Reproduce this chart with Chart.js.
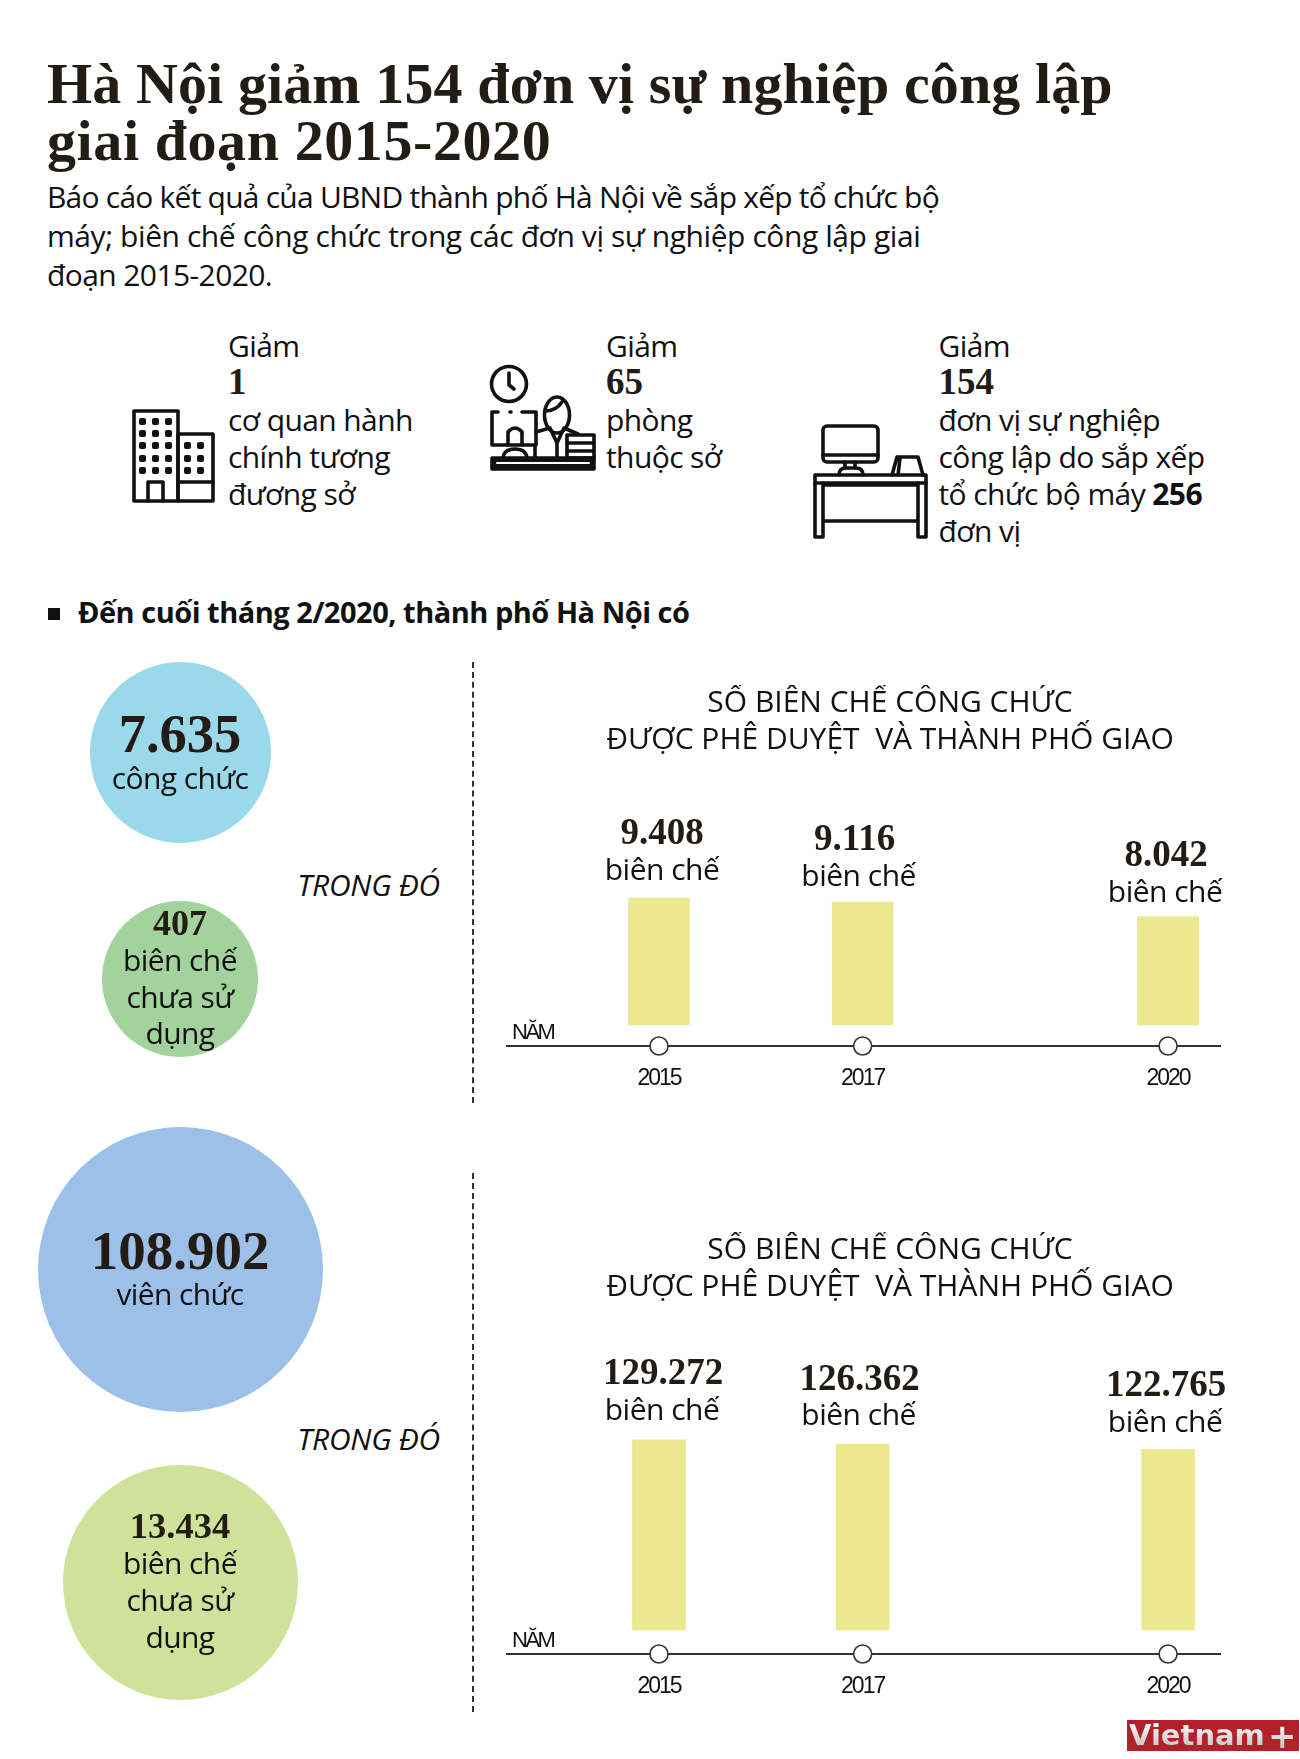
<!DOCTYPE html>
<html lang="vi">
<head>
<meta charset="utf-8">
<script src="https://cdn.jsdelivr.net/npm/chart.js@4"></script>
<style>
html, body { margin: 0; padding: 0; background: #fff; }
#page { position: relative; width: 1300px; height: 1759px; overflow: hidden; color: #111; }
#page canvas { position: absolute; }
.t { position: absolute; white-space: nowrap; line-height: 1; font-family: "Open Sans", sans-serif; }
.head { font: bold 58px/1 "Liberation Serif", serif; color: #231c14; }
.body { font-size: 30px; letter-spacing: -0.6px; }
.num { font: bold 37px/1 "Liberation Serif", serif; color: #231c14; }
.strong { font-size: 29px; font-weight: 700; letter-spacing: -0.49px; }
.it { font-size: 30px; font-style: italic; letter-spacing: -0.25px; }
.dash { position: absolute; left: 472px; width: 0; border-left: 2px dashed #333; }
#logo { position: absolute; left: 1127px; top: 1720px; width: 172px; height: 31px; background: #b3202a; overflow: hidden; }
#logo span { position: absolute; top: 0; font: bold 29px/31px "DejaVu Sans", sans-serif;
  background: linear-gradient(#fff, #bdbdbd); -webkit-background-clip: text; background-clip: text; color: transparent; }
#icons { position: absolute; left: 0; top: 0; }
</style>
</head>
<body>
<div id="page">
  <svg id="icons" width="1300" height="600" fill="none" stroke="#111" stroke-width="3.6" stroke-linejoin="round" stroke-linecap="round">
    <!-- building -->
    <rect x="134" y="411" width="44" height="90"/><rect x="178" y="434" width="35" height="67"/>
    <path d="M148 501V482H163V501M178 482H213"/>
    <g fill="#111" stroke="none">
      <rect x="139" y="418" width="7" height="7" rx="2"/><rect x="152" y="418" width="7" height="7" rx="2"/><rect x="165" y="418" width="7" height="7" rx="2"/>
      <rect x="139" y="430" width="7" height="7" rx="2"/><rect x="152" y="430" width="7" height="7" rx="2"/><rect x="165" y="430" width="7" height="7" rx="2"/>
      <rect x="139" y="442" width="7" height="7" rx="2"/><rect x="152" y="442" width="7" height="7" rx="2"/><rect x="165" y="442" width="7" height="7" rx="2"/>
      <rect x="139" y="455" width="7" height="7" rx="2"/><rect x="152" y="455" width="7" height="7" rx="2"/><rect x="165" y="455" width="7" height="7" rx="2"/>
      <rect x="139" y="467" width="7" height="7" rx="2"/><rect x="152" y="467" width="7" height="7" rx="2"/><rect x="165" y="467" width="7" height="7" rx="2"/>
      <rect x="184" y="442" width="7" height="7" rx="2"/><rect x="197" y="442" width="7" height="7" rx="2"/>
      <rect x="184" y="455" width="7" height="7" rx="2"/><rect x="197" y="455" width="7" height="7" rx="2"/>
      <rect x="184" y="467" width="7" height="7" rx="2"/><rect x="197" y="467" width="7" height="7" rx="2"/>
    </g>
    <!-- clerk at desk -->
    <circle cx="509" cy="384" r="17.5"/><path d="M509 373V385L514 389"/>
    <path d="M498 412H492V445H536V412H522M510 412H511"/>
    <path d="M508 445V432Q515 424 522 432V445M503 458Q504 449 515 449Q526 449 527 458M535 445V458"/>
    <ellipse cx="557" cy="415" rx="12.5" ry="18"/><path d="M545 411Q556 411 562 402"/>
    <path d="M536 432L550 428L557 443L564 428L578 434M557 443V458"/>
    <rect x="567" y="435" width="27" height="23"/><path d="M567 443H594M567 451H594"/>
    <rect x="492" y="458" width="102" height="11" fill="#111"/><path d="M497 463H589" stroke="#fff" stroke-width="2"/>
    <!-- work desk -->
    <rect x="823" y="426" width="55" height="36" rx="4"/><path d="M823 455H878M845 462V468M855 462V468"/>
    <path d="M839 475Q839 468 846 468H856Q863 468 863 475"/>
    <path d="M892 475L897 457H918L923 475M898 475L900 458"/>
    <rect x="815" y="475" width="111" height="8"/><path d="M815 483V537H823V483M918 483V537H926V483M823 485H918M823 521H918"/>
  </svg>
  <div class="dash" style="top:662px;height:441px"></div>
  <div class="dash" style="top:1173px;height:539px"></div>
  <canvas id="circleCongChuc" style="left:90px;top:662px"></canvas>
  <canvas id="circleChuaCongChuc" style="left:102px;top:901px"></canvas>
  <canvas id="circleVienChuc" style="left:38px;top:1127px"></canvas>
  <canvas id="circleChuaVienChuc" style="left:63px;top:1465px"></canvas>
  <canvas id="chartCongChuc" style="left:480px;top:685px"></canvas>
  <canvas id="chartVienChuc" style="left:480px;top:1232px"></canvas>
  <div id="logo"><span style="left:2px">Vietnam</span><span style="left:141px;top:1px;font-size:34px">+</span></div>
</div>
<script>
const years = [2015, 2017, 2020];
const congChucBienChe = [9408, 9116, 8042];
const vienChucBienChe = [129272, 126362, 122765];
const tongCongChuc = [7635];
const chuaSuDungCongChuc = [407];
const tongVienChuc = [108902];
const chuaSuDungVienChuc = [13434];
const giam = [1, 65, 154, 256];
const chartTitle = ['SỐ BIÊN CHẾ CÔNG CHỨC', 'ĐƯỢC PHÊ DUYỆT  VÀ THÀNH PHỐ GIAO'];

const SANS = '"Open Sans", sans-serif';
const SERIF = '"Liberation Serif", serif';
const TICK_FONT = '"Liberation Sans", sans-serif';
const INK = '#231c14';
const fmt = v => v.toLocaleString('de-DE');

// text placed by its baseline; 0.888 / 0.8375 = ascent offset with line-height 1
function put(text, x, base, cls, anchor, size, spacing) {
    const el = document.createElement('div');
    el.className = 't ' + cls;
    el.innerHTML = text;
    document.getElementById('page').appendChild(el);
    const serif = cls === 'head' || cls === 'num';
    const fs = size || parseFloat(getComputedStyle(el).fontSize);
    if (size) el.style.fontSize = size + 'px';
    if (spacing !== undefined) el.style.letterSpacing = spacing + 'px';
    el.style.left = x + 'px';
    el.style.top = (base - fs * (serif ? 0.8375 : 0.888)) + 'px';
    if (anchor === 'c') el.style.transform = 'translateX(-50%)';
    if (anchor === 'r') el.style.transform = 'translateX(-100%)';
    return el;
}

// heading block
put('Hà Nội giảm ' + giam[2] + ' đơn vị sự nghiệp công lập', 47, 104, 'head', 'l', 0, 0.11);
put('giai đoạn 2015-2020', 47, 161, 'head', 'l', 0, 0.59);
put('Báo cáo kết quả của UBND thành phố Hà Nội về sắp xếp tổ chức bộ', 47, 209, 'body', 'l', 0, -0.77);
put('máy; biên chế công chức trong các đơn vị sự nghiệp công lập giai', 47, 248, 'body', 'l', 0, -0.42);
put('đoạn 2015-2020.', 47, 287, 'body');

put('Giảm', 228, 358, 'body');
put(giam[0], 228, 394, 'num');
put('cơ quan hành', 228, 432, 'body');
put('chính tương', 228, 469, 'body');
put('đương sở', 228, 506, 'body');

put('Giảm', 606, 358, 'body');
put(giam[1], 606, 394, 'num');
put('phòng', 606, 432, 'body');
put('thuộc sở', 606, 469, 'body');

put('Giảm', 938.5, 358, 'body');
put(giam[2], 938.5, 394, 'num');
put('đơn vị sự nghiệp', 938.5, 432, 'body');
put('công lập do sắp xếp', 938.5, 469, 'body');
put('tổ chức bộ máy <b>' + giam[3] + '</b>', 938.5, 506, 'body');
put('đơn vị', 938.5, 543, 'body');

const bullet = document.createElement('div');
bullet.style.cssText = 'position:absolute;left:48px;top:608px;width:12px;height:12px;background:#111';
document.getElementById('page').appendChild(bullet);
put('Đến cuối tháng 2/2020, thành phố Hà Nội có', 78, 623, 'strong');

// one-slice pies for the circles on the left
function drawCircle(id, values, size, color) {
    const canvas = document.getElementById(id);
    canvas.width = size;
    canvas.height = size;
    new Chart(canvas, {
        type: 'pie',
        data: { datasets: [{ data: values, backgroundColor: color, borderWidth: 0 }] },
        options: {
            responsive: false,
            animation: false,
            plugins: { legend: { display: false }, tooltip: { enabled: false } }
        }
    });
}
drawCircle('circleCongChuc', tongCongChuc, 181, '#99d9ea');
drawCircle('circleChuaCongChuc', chuaSuDungCongChuc, 156, '#a3d39c');
drawCircle('circleVienChuc', tongVienChuc, 285, '#9cc0e7');
drawCircle('circleChuaVienChuc', chuaSuDungVienChuc, 235, '#cfe29a');

put(fmt(tongCongChuc[0]), 180, 753, 'num', 'c', 54.5);
put('công chức', 180, 790, 'body', 'c');
put(fmt(chuaSuDungCongChuc[0]), 180, 935, 'num', 'c', 36);
put('biên chế', 180, 972, 'body', 'c');
put('chưa sử', 180, 1009, 'body', 'c');
put('dụng', 180, 1045, 'body', 'c');
put('TRONG ĐÓ', 440, 897, 'it', 'r');

put(fmt(tongVienChuc[0]), 180, 1269, 'num', 'c', 55);
put('viên chức', 180, 1306, 'body', 'c');
put(fmt(chuaSuDungVienChuc[0]), 180, 1539, 'num', 'c', 36.5);
put('biên chế', 180, 1575, 'body', 'c');
put('chưa sử', 180, 1612, 'body', 'c');
put('dụng', 180, 1649, 'body', 'c');
put('TRONG ĐÓ', 440, 1451, 'it', 'r');

// value + unit above each bar, year caption beside the axis
const barLabels = {
    id: 'barLabels',
    beforeDraw(chart) {
        const ctx = chart.ctx;
        ctx.letterSpacing = '-2px';   // squeezes the tick labels, the title undoes it below
        const title = chart.titleBlock;
        if (!title.wrapped) {
            const draw = title.draw;
            title.draw = function () {
                ctx.save();
                ctx.letterSpacing = '0px';
                draw.call(title);
                ctx.restore();
            };
            title.wrapped = true;
        }
    },
    afterDatasetsDraw(chart, args, opts) {
        const ctx = chart.ctx;
        const values = chart.data.datasets[0].data;
        ctx.save();
        ctx.textAlign = 'center';
        ctx.textBaseline = 'alphabetic';
        chart.getDatasetMeta(0).data.forEach((bar, i) => {
            ctx.fillStyle = INK;
            ctx.letterSpacing = '0px';
            ctx.font = 'bold 37px ' + SERIF;
            ctx.fillText(fmt(values[i].y), bar.x + opts.valueDx[i], bar.y - opts.valueGap + opts.valueDy[i]);
            ctx.fillStyle = '#111';
            ctx.letterSpacing = '-0.5px';
            ctx.font = '30px ' + SANS;
            ctx.fillText('biên chế', bar.x + opts.unitDx[i], bar.y - opts.unitGap + opts.unitDy[i]);
        });
        ctx.textAlign = 'left';
        ctx.letterSpacing = '-2.5px';
        ctx.font = '22px ' + TICK_FONT;
        ctx.fillText('NĂM', chart.chartArea.left + 5, chart.chartArea.bottom - 7);
        ctx.restore();
    }
};

function drawBars(id, values, height, yMin, yMax, barWidth, titleBottom, labelOpts) {
    const canvas = document.getElementById(id);
    canvas.width = 820;
    canvas.height = height;
    new Chart(canvas, {
        type: 'bar',
        data: {
            datasets: [{
                data: years.map((y, i) => ({ x: y, y: values[i] })),
                backgroundColor: '#ece88f',
                barThickness: barWidth
            }, {
                type: 'line',
                data: years.map(y => ({ x: y, y: yMin })),
                showLine: false,
                clip: false,
                pointRadius: 9,
                pointBackgroundColor: '#fff',
                pointBorderColor: '#333',
                pointBorderWidth: 1.6
            }]
        },
        options: {
            responsive: false,
            animation: false,
            plugins: {
                legend: { display: false },
                tooltip: { enabled: false },
                barLabels: labelOpts,
                title: {
                    display: true,
                    text: chartTitle,
                    color: '#111',
                    font: { family: SANS, size: 30, weight: 'normal', lineHeight: 37 / 30 },
                    padding: { top: 0, bottom: titleBottom }
                }
            },
            scales: {
                x: {
                    type: 'linear',
                    min: 2013.507,
                    max: 2020.51,
                    offset: false,
                    afterBuildTicks: scale => { scale.ticks = years.map(v => ({ value: v })); },
                    afterFit: scale => { scale.height = 66; },
                    grid: { display: false, drawTicks: false },
                    border: { color: '#333', width: 2 },
                    ticks: {
                        color: '#111',
                        padding: 19,
                        maxRotation: 0,
                        autoSkip: false,
                        font: { family: TICK_FONT, size: 23 },
                        callback: v => String(v)
                    }
                },
                y: {
                    min: yMin,
                    max: yMax,
                    afterFit: scale => { scale.width = 27; },
                    grid: { display: false },
                    border: { display: false },
                    ticks: { display: false }
                },
                yRight: {
                    position: 'right',
                    afterFit: scale => { scale.width = 80; },
                    grid: { display: false },
                    border: { display: false },
                    ticks: { display: false }
                }
            }
        },
        plugins: [barLabels]
    });
}
drawBars('chartCongChuc', congChucBienChe, 427, -1560, 16230, 61, 47, {
    valueGap: 54, unitGap: 18,
    valueDx: [3, -8, -2], valueDy: [0, 2, 4],
    unitDx: [3, -4, -3], unitDy: [0, 2, 4]
});
drawBars('chartVienChuc', vienChucBienChe, 488, -16315, 190347, 53, 44, {
    valueGap: 56, unitGap: 20,
    valueDx: [4, -3, -2], valueDy: [0, 2, 3],
    unitDx: [3, -4, -3], unitDy: [0, 1, 3]
});
</script>
</body>
</html>
